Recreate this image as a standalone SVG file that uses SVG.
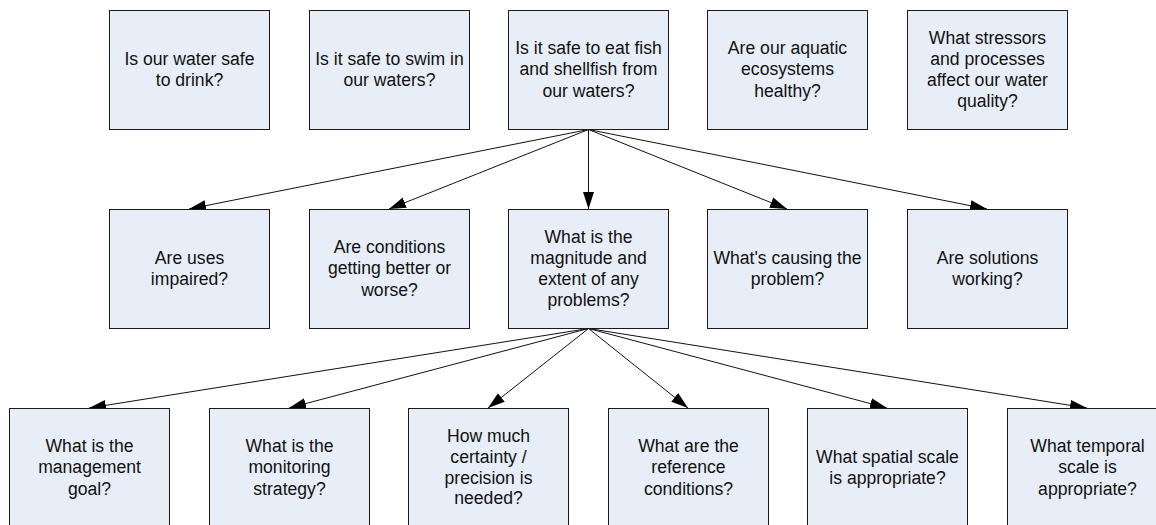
<svg xmlns="http://www.w3.org/2000/svg" width="1156" height="525" viewBox="0 0 1156 525">
<style>
.box{fill:#E8EEF8;stroke:#1a1a1a;stroke-width:1}
.t{font-family:"Liberation Sans",Arial,sans-serif;font-size:17.6px;fill:#111;text-anchor:middle}
.c{stroke:#111;stroke-width:1;fill:none;marker-end:url(#ah)}
</style>
<defs>
<marker id="ah" markerUnits="userSpaceOnUse" markerWidth="18" markerHeight="12" viewBox="0 0 18 12" refX="17" refY="6" orient="auto">
<path d="M0,0.5 L17,6 L0,11.5 z" fill="#000"/>
</marker>
</defs>
<rect width="1156" height="525" fill="#fff"/>
<g id="connectors">
<line class="c" x1="588.5" y1="129.5" x2="189" y2="209"/>
<line class="c" x1="588.5" y1="129.5" x2="389" y2="209"/>
<line class="c" x1="588.5" y1="129.5" x2="588.5" y2="209"/>
<line class="c" x1="588.5" y1="129.5" x2="787" y2="209"/>
<line class="c" x1="588.5" y1="129.5" x2="987" y2="209"/>
<line class="c" x1="588.5" y1="328.5" x2="89" y2="408"/>
<line class="c" x1="588.5" y1="328.5" x2="289" y2="408"/>
<line class="c" x1="588.5" y1="328.5" x2="488" y2="408"/>
<line class="c" x1="588.5" y1="328.5" x2="688" y2="408"/>
<line class="c" x1="588.5" y1="328.5" x2="887" y2="408"/>
<line class="c" x1="588.5" y1="328.5" x2="1087" y2="408"/>
</g>
<g id="n1"><rect class="box" x="109.5" y="10.5" width="160" height="119"/><text class="t" x="189.5" y="65">Is our water safe</text><text class="t" x="189.5" y="86.3">to drink?</text></g>
<g id="n2"><rect class="box" x="309.5" y="10.5" width="160" height="119"/><text class="t" x="389.5" y="65">Is it safe to swim in</text><text class="t" x="389.5" y="86.3">our waters?</text></g>
<g id="n3"><rect class="box" x="508.5" y="10.5" width="160" height="119"/><text class="t" x="588.5" y="54">Is it safe to eat fish</text><text class="t" x="588.5" y="75.3">and shellfish from</text><text class="t" x="588.5" y="96.6">our waters?</text></g>
<g id="n4"><rect class="box" x="707.5" y="10.5" width="160" height="119"/><text class="t" x="787.5" y="54">Are our aquatic</text><text class="t" x="787.5" y="75.3">ecosystems</text><text class="t" x="787.5" y="96.6">healthy?</text></g>
<g id="n5"><rect class="box" x="907.5" y="10.5" width="160" height="119"/><text class="t" x="987.5" y="43.5">What stressors</text><text class="t" x="987.5" y="64.8">and processes</text><text class="t" x="987.5" y="86.1">affect our water</text><text class="t" x="987.5" y="107.4">quality?</text></g>
<g id="m1"><rect class="box" x="109.5" y="209.5" width="160" height="119"/><text class="t" x="189.5" y="264">Are uses</text><text class="t" x="189.5" y="285.3">impaired?</text></g>
<g id="m2"><rect class="box" x="309.5" y="209.5" width="160" height="119"/><text class="t" x="389.5" y="253">Are conditions</text><text class="t" x="389.5" y="274.3">getting better or</text><text class="t" x="389.5" y="295.6">worse?</text></g>
<g id="m3"><rect class="box" x="508.5" y="209.5" width="160" height="119"/><text class="t" x="588.5" y="242.5">What is the</text><text class="t" x="588.5" y="263.8">magnitude and</text><text class="t" x="588.5" y="285.1">extent of any</text><text class="t" x="588.5" y="306.4">problems?</text></g>
<g id="m4"><rect class="box" x="707.5" y="209.5" width="160" height="119"/><text class="t" x="787.5" y="264">What's causing the</text><text class="t" x="787.5" y="285.3">problem?</text></g>
<g id="m5"><rect class="box" x="907.5" y="209.5" width="160" height="119"/><text class="t" x="987.5" y="264">Are solutions</text><text class="t" x="987.5" y="285.3">working?</text></g>
<g id="b1"><rect class="box" x="9.5" y="408.5" width="160" height="119"/><text class="t" x="89.5" y="452">What is the</text><text class="t" x="89.5" y="473.3">management</text><text class="t" x="89.5" y="494.6">goal?</text></g>
<g id="b2"><rect class="box" x="209.5" y="408.5" width="160" height="119"/><text class="t" x="289.5" y="452">What is the</text><text class="t" x="289.5" y="473.3">monitoring</text><text class="t" x="289.5" y="494.6">strategy?</text></g>
<g id="b3"><rect class="box" x="408.5" y="408.5" width="160" height="119"/><text class="t" x="488.5" y="442">How much</text><text class="t" x="488.5" y="462.8">certainty /</text><text class="t" x="488.5" y="483.6">precision is</text><text class="t" x="488.5" y="504.4">needed?</text></g>
<g id="b4"><rect class="box" x="608.5" y="408.5" width="160" height="119"/><text class="t" x="688.5" y="452">What are the</text><text class="t" x="688.5" y="473.3">reference</text><text class="t" x="688.5" y="494.6">conditions?</text></g>
<g id="b5"><rect class="box" x="807.5" y="408.5" width="160" height="119"/><text class="t" x="887.5" y="463">What spatial scale</text><text class="t" x="887.5" y="484.3">is appropriate?</text></g>
<g id="b6"><rect class="box" x="1007.5" y="408.5" width="160" height="119"/><text class="t" x="1087.5" y="452">What temporal</text><text class="t" x="1087.5" y="473.3">scale is</text><text class="t" x="1087.5" y="494.6">appropriate?</text></g>
</svg>
